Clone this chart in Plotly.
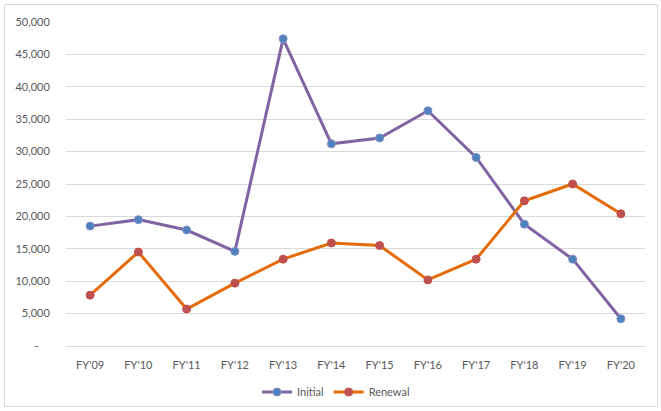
import plotly.graph_objects as go

# Fiscal years on the category axis
years = ["FY'09", "FY'10", "FY'11", "FY'12", "FY'13", "FY'14",
         "FY'15", "FY'16", "FY'17", "FY'18", "FY'19", "FY'20"]

# Yearly counts for each series
initial = [18500, 19500, 17900, 14600, 47400, 31200,
           32100, 36300, 29100, 18800, 13400, 4200]
renewal = [7850, 14500, 5700, 9700, 13400, 15900,
           15500, 10200, 13400, 22400, 25000, 20400]

# Y axis ticks (zero shown as a dash, accounting style)
y_ticks = [0, 5000, 10000, 15000, 20000, 25000, 30000, 35000, 40000, 45000, 50000]
y_labels = ["-    "] + [f"{v:,}" for v in y_ticks[1:]]

FONT = "Lato, Open Sans, sans-serif"
TEXT = "#595959"

fig = go.Figure()
fig.add_trace(go.Scatter(
    x=years, y=initial, name="Initial", mode="lines+markers",
    line=dict(color="#8064A2", width=3),
    marker=dict(size=8, color="#4F81BD", line=dict(color="#7F8FC9", width=1)),
))
fig.add_trace(go.Scatter(
    x=years, y=renewal, name="Renewal", mode="lines+markers",
    line=dict(color="#E46C0A", width=3),
    marker=dict(size=8, color="#C0504D", line=dict(color="#C0504D", width=1)),
))

W, H = 661, 411
L, R, T, B = 66, 16, 22, 65
pw, ph = W - L - R, H - T - B

def px_x(x):
    return (x - L) / pw

def px_y(y):
    return (H - B - y) / ph

fig.update_layout(
    width=W, height=H,
    margin=dict(l=L, r=R, t=T, b=B, autoexpand=False),
    paper_bgcolor="white", plot_bgcolor="white",
    font=dict(family=FONT, size=11, color=TEXT),
    showlegend=True,
    legend=dict(orientation="h", x=px_x(336), xanchor="center",
                y=px_y(392), yanchor="middle",
                bgcolor="rgba(0,0,0,0)",
                font=dict(family=FONT, size=11, color=TEXT),
                itemwidth=30),
    xaxis=dict(
        type="category", showgrid=False, zeroline=False, showline=False,
        ticks="outside", ticklen=9, tickcolor="rgba(0,0,0,0)",
        tickfont=dict(family=FONT, size=11, color=TEXT),
        range=[-0.5, len(years) - 0.5],
    ),
    yaxis=dict(
        range=[0, 50000], tickvals=y_ticks, ticktext=y_labels,
        showgrid=True, gridcolor="#D9D9D9", gridwidth=1,
        zeroline=True, zerolinecolor="#D9D9D9", zerolinewidth=1,
        showline=False,
        ticks="outside", ticklen=13, tickcolor="rgba(0,0,0,0)",
        tickfont=dict(family=FONT, size=11, color=TEXT),
    ),
    shapes=[dict(
        type="rect", xref="paper", yref="paper",
        x0=px_x(4.5), x1=px_x(657.5), y0=px_y(406.5), y1=px_y(4.5),
        line=dict(color="#D9D9D9", width=1), layer="below",
    )],
)

fig.write_html("out.html")
